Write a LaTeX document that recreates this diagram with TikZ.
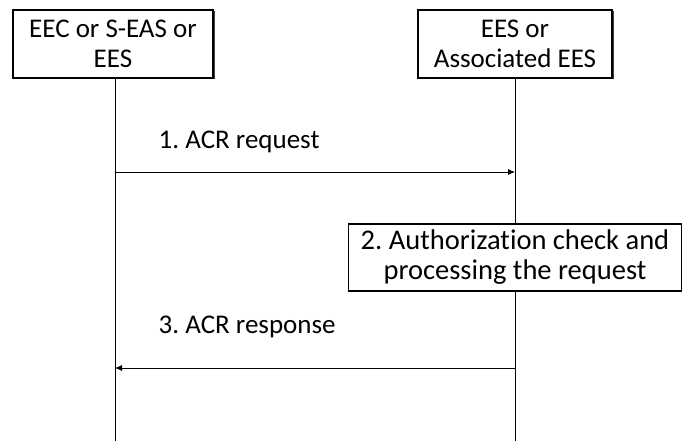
\documentclass[tikz,border=0pt]{standalone}
\usepackage{fontspec}
\setmainfont{Carlito}[Ligatures=NoCommon]
\frenchspacing
\usetikzlibrary{shadows,arrows.meta}
\tikzset{
  entity/.style={draw,line width=1.1pt,fill=white,align=center,minimum width=200pt,minimum height=68pt,inner sep=2pt,
    font=\fontsize{27}{30}\selectfont,
    drop shadow={shadow xshift=1.5pt,shadow yshift=-1.5pt,fill=black!75,opacity=1}},
  msg/.style={-{Latex[length=7pt,width=6pt]}},
  stepbox/.style={draw,line width=1.1pt,fill=white,align=center,minimum width=333pt,minimum height=67pt,inner sep=2pt,
    font=\fontsize{28.5}{30}\selectfont}
}
\begin{document}
\begin{tikzpicture}[x=1pt,y=-1pt,font=\fontsize{27}{30}\selectfont,line width=0.8pt]
  \useasboundingbox (0,0) rectangle (685,441);
  \node[entity] (ue) at (113,44) {EEC or S-EAS or\\EES};
  \node[entity,minimum width=194pt] (ees) at (515,44) {EES or\\Associated EES};
  \coordinate (ueend) at (115,441);
  \coordinate (eesend) at (515,441);
  \draw (ue.south-|ueend)--(ueend);
  \draw (ees.south-|eesend)--(eesend);
  \coordinate (m1a) at (115,172);
  \coordinate (m1b) at (515,172);
  \draw[msg] (m1a)--(m1b);
  \node[anchor=west] (m1) at (155,142) {1. ACR request};
  \node[stepbox] (chk) at (515,257.5) {2. Authorization check and\\processing the request};
  \coordinate (m3a) at (515,368);
  \coordinate (m3b) at (115,368);
  \draw[msg] (m3a)--(m3b);
  \node[anchor=west] (m3) at (155,327) {3. ACR response};
\end{tikzpicture}
\end{document}
